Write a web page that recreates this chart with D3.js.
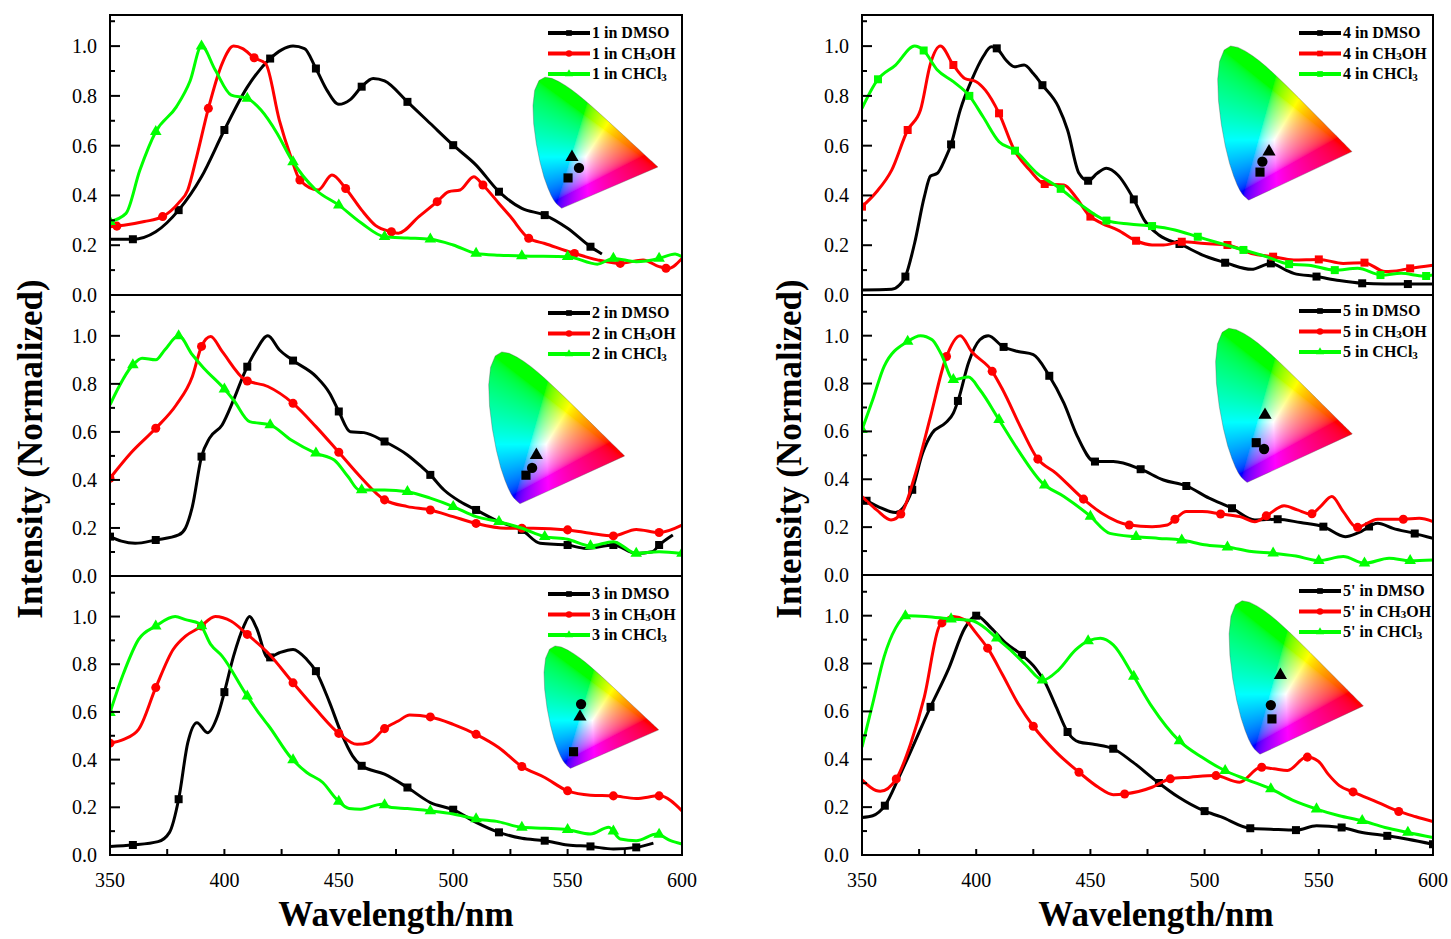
<!DOCTYPE html>
<html>
<head>
<meta charset="utf-8">
<script src="https://cdn.jsdelivr.net/npm/d3@7"></script>
<style>
  body { margin: 0; background: #fff; }
  svg { display: block; }
  text { font-family: "Liberation Serif", "Times New Roman", serif; fill: #000; }
</style>
</head>
<body>
<svg id="fig" width="1451" height="939"></svg>
<script>
// ---------- tick labels ----------
const wavelengthTicks = [350, 400, 450, 500, 550, 600];
const wavelengthMinorTicks = [350, 375, 400, 425, 450, 475, 500, 525, 550, 575, 600];
const intensityTicks = [0, 0.2, 0.4, 0.6, 0.8, 1.0];
const intensityMinorTicks = [0.1, 0.3, 0.5, 0.7, 0.9, 1.1];
const compounds = ["1", "2", "3", "4", "5", "5'"];
const solvents = ["DMSO", "CH3OH", "CHCl3"];

// ---------- emission spectra: [wavelength (nm), normalized intensity] ----------
const dmso1 = [[350,0.224],[360,0.224],[370,0.254],[380,0.341],[390,0.475],[400,0.663],[410,0.835],[420,0.95],[425,0.985],[430,1.0],[435,0.99],[440,0.91],[445,0.82],[450,0.766],[455,0.785],[460,0.837],[465,0.87],[470,0.86],[480,0.776],[490,0.689],[500,0.602],[510,0.522],[520,0.415],[530,0.348],[540,0.321],[550,0.268],[560,0.194],[565,0.165]];
const ch3oh1 = [[350,0.274],[356,0.28],[365,0.295],[373,0.315],[380,0.37],[384,0.422],[388,0.56],[393,0.75],[399,0.93],[404,1.0],[408,0.99],[413,0.953],[418,0.93],[424,0.703],[429,0.556],[433,0.462],[441,0.422],[447,0.482],[453,0.428],[460,0.341],[466,0.28],[473,0.254],[476,0.248],[485,0.315],[493,0.375],[498,0.415],[503,0.422],[509,0.475],[513,0.442],[520,0.368],[525,0.315],[533,0.228],[540,0.207],[553,0.167],[563,0.141],[573,0.127],[583,0.141],[590,0.114],[594,0.107],[600,0.147]];
const chcl31 = [[350,0.295],[357,0.328],[363,0.5],[370,0.656],[379,0.756],[385,0.86],[390,1.0],[396,0.904],[403,0.803],[410,0.79],[416,0.743],[423,0.65],[429,0.549],[440,0.422],[450,0.361],[460,0.288],[470,0.234],[480,0.229],[490,0.224],[500,0.201],[510,0.167],[520,0.16],[530,0.157],[550,0.154],[563,0.124],[570,0.147],[580,0.134],[590,0.147],[597,0.165],[600,0.154]];

const dmso2 = [[350,0.164],[355,0.145],[361,0.136],[370,0.15],[380,0.171],[383,0.2],[386,0.289],[390,0.497],[393.5,0.574],[399,0.629],[404,0.733],[409,0.851],[414,0.942],[419,1.0],[424,0.942],[430,0.897],[440,0.831],[446,0.761],[450,0.685],[455,0.601],[461,0.597],[470,0.56],[480,0.504],[486,0.456],[490,0.421],[496,0.358],[503,0.31],[510,0.275],[520,0.226],[530,0.192],[538,0.136],[550,0.129],[558,0.115],[570,0.129],[580,0.094],[587,0.101],[590,0.129],[596,0.171]];
const ch3oh2 = [[350,0.407],[359,0.511],[370,0.615],[379,0.713],[386,0.831],[390,0.956],[394,0.997],[399,0.935],[409,0.817],[419,0.789],[430,0.719],[440,0.622],[450,0.515],[460,0.407],[470,0.317],[480,0.289],[490,0.275],[500,0.247],[510,0.219],[523,0.199],[535,0.199],[550,0.192],[560,0.178],[570,0.167],[580,0.194],[590,0.181],[600,0.212]];
const chcl32 = [[350,0.713],[360,0.879],[364,0.907],[370,0.9],[374,0.942],[380,1.0],[386,0.921],[391,0.865],[399,0.789],[404,0.733],[411,0.643],[420,0.629],[429,0.567],[440,0.511],[448,0.483],[454,0.414],[459,0.358],[470,0.358],[480,0.351],[490,0.324],[500,0.289],[510,0.247],[520,0.226],[530,0.199],[540,0.164],[550,0.153],[560,0.125],[570,0.143],[580,0.094],[590,0.101],[600,0.094]];

const dmso3 = [[350,0.036],[360,0.042],[371,0.056],[376,0.095],[380,0.234],[384,0.471],[388,0.555],[392.6,0.513],[397,0.583],[400,0.683],[404,0.834],[408.5,0.96],[411,1.0],[414,0.953],[419,0.827],[424,0.848],[430,0.862],[436,0.82],[440,0.771],[446,0.639],[451,0.513],[456,0.416],[460,0.374],[470,0.339],[480,0.283],[490,0.22],[500,0.19],[510,0.137],[520,0.095],[530,0.07],[540,0.06],[550,0.042],[560,0.036],[570,0.025],[580,0.032],[587.5,0.05]];
const ch3oh3 = [[350,0.469],[356,0.485],[362.5,0.527],[370,0.702],[377.6,0.862],[383,0.918],[389,0.953],[396,1.0],[403,0.98],[410,0.925],[419,0.848],[430,0.722],[440,0.611],[450,0.51],[458,0.464],[463,0.471],[470,0.53],[476,0.562],[481,0.587],[490,0.579],[500,0.548],[510,0.506],[520,0.45],[530,0.371],[540,0.325],[550,0.269],[560,0.251],[570,0.248],[580,0.237],[590,0.248],[600,0.185]];
const chcl33 = [[350,0.597],[356,0.764],[362.5,0.904],[370,0.96],[378.5,1.0],[383,0.987],[389,0.971],[394,0.883],[399,0.834],[409,0.681],[416,0.583],[419.4,0.541],[429,0.409],[436,0.346],[443,0.304],[449,0.234],[454.5,0.195],[459.5,0.192],[468.7,0.213],[473,0.199],[480,0.195],[490,0.185],[500,0.172],[510,0.151],[520,0.139],[530,0.116],[540,0.112],[550,0.106],[560,0.088],[568,0.116],[573,0.067],[580,0.06],[589,0.088],[595,0.06],[600,0.046]];

const dmso4 = [[350,0.02],[363,0.023],[366.4,0.04],[369,0.074],[373,0.207],[377.3,0.395],[380,0.478],[383,0.489],[386.5,0.549],[389,0.605],[393,0.743],[398,0.863],[403,0.957],[406.6,0.997],[409,0.991],[413,0.944],[416.7,0.917],[421,0.924],[425,0.89],[429,0.843],[436,0.756],[440,0.663],[445,0.489],[449,0.459],[453,0.489],[457,0.509],[462,0.482],[469,0.384],[473.6,0.301],[480,0.241],[490,0.201],[500,0.157],[510,0.127],[520.5,0.103],[529,0.127],[535.6,0.1],[539,0.087],[549,0.074],[559,0.058],[569,0.047],[579,0.044],[589,0.044],[600,0.044]];
const ch3oh4 = [[350,0.355],[356.4,0.415],[363,0.502],[370,0.663],[375.6,0.743],[380,0.93],[384.3,1.0],[390,0.924],[395,0.87],[400,0.857],[404,0.823],[410,0.73],[416.7,0.582],[423.4,0.502],[430,0.446],[438.4,0.442],[443.5,0.395],[449.3,0.321],[455,0.288],[462,0.261],[470,0.218],[477,0.201],[482,0.201],[490,0.214],[500,0.207],[510,0.201],[520.5,0.167],[530,0.154],[539,0.141],[550,0.143],[560.7,0.127],[570,0.13],[579,0.094],[586,0.1],[590,0.107],[600,0.12]];
const chcl34 = [[350,0.75],[356.7,0.863],[364.7,0.924],[373,1.0],[376.8,0.984],[383,0.904],[390,0.857],[397,0.8],[403,0.716],[410,0.616],[416.7,0.582],[426.7,0.489],[436.8,0.428],[445,0.368],[457,0.299],[467,0.285],[477,0.277],[487,0.261],[497,0.234],[507,0.207],[517,0.181],[527,0.154],[537,0.124],[545.6,0.12],[557,0.1],[567,0.107],[577.5,0.08],[586,0.087],[596,0.076],[600,0.08]];

const dmso5 = [[350,0.321],[357,0.286],[364.7,0.261],[372,0.356],[376.5,0.509],[380.7,0.593],[386.5,0.635],[390,0.676],[392.4,0.739],[396.6,0.886],[401.6,0.983],[405.3,1.0],[411.6,0.955],[418.3,0.934],[425,0.921],[431.7,0.837],[438.4,0.718],[444.3,0.579],[451.8,0.474],[460,0.474],[472,0.442],[482,0.397],[492,0.372],[502,0.321],[512,0.279],[522,0.23],[532,0.233],[542,0.219],[552,0.202],[561.6,0.16],[567.4,0.177],[575.8,0.216],[582.5,0.195],[591.7,0.174],[600,0.153]];
const ch3oh5 = [[350,0.328],[356.4,0.272],[362.7,0.23],[367.3,0.258],[373,0.411],[380,0.662],[386.5,0.9],[393,1.0],[398,0.934],[407,0.851],[411.6,0.774],[420,0.607],[426.7,0.488],[435,0.425],[447,0.317],[455,0.258],[467,0.209],[477,0.202],[483.7,0.209],[487,0.233],[492,0.265],[499,0.265],[507,0.255],[515.5,0.244],[522,0.223],[527,0.247],[534.8,0.289],[540.6,0.272],[546.5,0.255],[550.7,0.286],[555.7,0.328],[560.7,0.265],[566.6,0.199],[575.8,0.233],[586.7,0.233],[594,0.237],[600,0.223]];
const chcl35 = [[350,0.607],[354.7,0.732],[359.7,0.872],[370,0.976],[375.6,1.0],[380.7,0.983],[384.8,0.921],[390,0.816],[396.6,0.827],[401.6,0.774],[410,0.649],[418.3,0.523],[429,0.384],[438.4,0.328],[449.3,0.251],[458.5,0.174],[470,0.16],[480,0.153],[490,0.146],[500,0.126],[510.5,0.116],[520.5,0.098],[530,0.091],[540,0.079],[550,0.06],[560.7,0.077],[570,0.049],[580.8,0.07],[590,0.06],[600,0.063]];

const dmso6 = [[350,0.157],[354.7,0.164],[360,0.206],[366.4,0.33],[380,0.619],[388,0.78],[395,0.948],[400,1.0],[406.6,0.948],[413,0.885],[420,0.836],[426,0.78],[430,0.724],[435,0.619],[440,0.514],[445,0.472],[452,0.462],[460,0.444],[468.6,0.388],[478.6,0.311],[488.7,0.241],[499.6,0.185],[507,0.16],[519.7,0.112],[529,0.108],[540,0.104],[549,0.122],[560,0.115],[569,0.094],[580,0.08],[589,0.066],[600,0.045]];
const ch3oh6 = [[350,0.314],[358,0.266],[365,0.318],[371.3,0.465],[377.3,0.661],[384,0.958],[390,0.997],[395,0.983],[400,0.927],[405.3,0.86],[411.6,0.752],[418.3,0.633],[425,0.538],[435,0.43],[445,0.346],[453.5,0.283],[460,0.252],[465,0.255],[477,0.283],[484.8,0.318],[493.7,0.325],[504.6,0.332],[515.3,0.304],[524.6,0.367],[530.4,0.36],[536.3,0.353],[544.7,0.409],[549.8,0.392],[554,0.339],[559,0.29],[565.4,0.262],[575.8,0.22],[585,0.182],[592.5,0.16],[600,0.14]];
const chcl36 = [[350,0.451],[354.7,0.633],[359.7,0.829],[364.7,0.948],[369.4,1.0],[378,0.997],[389,0.986],[398,0.98],[403,0.955],[409,0.906],[415,0.857],[421.7,0.794],[429.2,0.731],[436,0.773],[443.5,0.857],[449.3,0.896],[454.4,0.906],[460,0.878],[468.6,0.752],[477,0.619],[488.7,0.479],[498.7,0.409],[508.8,0.353],[518.8,0.314],[529,0.276],[539,0.227],[549,0.192],[559,0.164],[569,0.143],[579,0.115],[589,0.094],[600,0.073]];

// first symbol wavelength of each curve (DMSO, CH3OH, CHCl3); symbols repeat every 20 nm
const symbolStart1 = [360, 353, 350];
const symbolStart2 = [350, 350, 360];
const symbolStart3 = [360, 350, 350];
const symbolStart4 = [369, 350, 357];
const symbolStart5 = [352, 367, 350];
const symbolStart6 = [360, 365, 369];
const symbolStep = 20;

// CIE 1931 chromaticity (x, y) of the emission: DMSO, CH3OH, CHCl3
const cie1 = [[0.209,0.196],[0.273,0.259],[0.232,0.328]];
const cie2 = [[0.204,0.160],[0.237,0.200],[0.260,0.270]];
const cie3 = [[0.192,0.117],[0.240,0.440],[0.233,0.354]];
const cie4 = [[0.234,0.155],[0.247,0.211],[0.283,0.265]];
const cie5 = [[0.221,0.218],[0.263,0.184],[0.268,0.367]];
const cie6 = [[0.237,0.195],[0.231,0.270],[0.283,0.432]];

// CIE 1931 2° spectral locus, 380–700 nm
const spectralLocus = [[0.1741,0.0050],[0.1740,0.0050],[0.1738,0.0049],[0.1736,0.0049],[0.1733,0.0048],[0.1730,0.0048],[0.1726,0.0048],[0.1721,0.0048],[0.1714,0.0051],[0.1703,0.0058],[0.1689,0.0069],[0.1669,0.0086],[0.1644,0.0109],[0.1611,0.0138],[0.1566,0.0177],[0.1510,0.0227],[0.1440,0.0297],[0.1355,0.0399],[0.1241,0.0578],[0.1096,0.0868],[0.0913,0.1327],[0.0687,0.2007],[0.0454,0.2950],[0.0235,0.4127],[0.0082,0.5384],[0.0039,0.6548],[0.0139,0.7502],[0.0389,0.8120],[0.0743,0.8338],[0.1142,0.8262],[0.1547,0.8059],[0.1929,0.7816],[0.2296,0.7543],[0.2658,0.7243],[0.3016,0.6923],[0.3373,0.6589],[0.3731,0.6245],[0.4087,0.5896],[0.4441,0.5547],[0.4788,0.5202],[0.5125,0.4866],[0.5448,0.4544],[0.5752,0.4242],[0.6029,0.3965],[0.6270,0.3725],[0.6482,0.3514],[0.6658,0.3340],[0.6801,0.3197],[0.6915,0.3083],[0.7006,0.2993],[0.7079,0.2920],[0.7140,0.2859],[0.7190,0.2809],[0.7230,0.2770],[0.7260,0.2740],[0.7283,0.2717],[0.7300,0.2700],[0.7311,0.2689],[0.7320,0.2680],[0.7334,0.2666],[0.7344,0.2656],[0.7347,0.2653]];

// ---------- layout ----------
const colors = ["#000000", "#ff0000", "#00ff00"];
const columns = [
  { left: 110, right: 682, labelX: 97, titleX: 42, titleCx: 396 },
  { left: 862, right: 1433, labelX: 849, titleX: 801, titleCx: 1156 }
];
const panels = [
  { col: 0, top: 15,  bottom: 295, yMax: 1.125, legendDy: 18, series: [dmso1, ch3oh1, chcl31], starts: symbolStart1, shapes: ["square","circle","triangle"], cie: cie1, inset: { x0: 532.3, y0: 208.9, sx: 171, sy: 158 } },
  { col: 0, top: 295, bottom: 576, yMax: 1.17,  legendDy: 18, series: [dmso2, ch3oh2, chcl32], starts: symbolStart2, shapes: ["square","circle","triangle"], cie: cie2, inset: { x0: 488, y0: 504.5, sx: 186, sy: 183 } },
  { col: 0, top: 576, bottom: 855, yMax: 1.17,  legendDy: 18, series: [dmso3, ch3oh3, chcl33], starts: symbolStart3, shapes: ["square","circle","triangle"], cie: cie3, inset: { x0: 543.4, y0: 769, sx: 157, sy: 147.6 } },
  { col: 1, top: 15,  bottom: 295, yMax: 1.125, legendDy: 18, series: [dmso4, ch3oh4, chcl34], starts: symbolStart4, shapes: ["square","square","square"], cie: cie4, inset: { x0: 1217, y0: 200.9, sx: 183.7, sy: 185.8 } },
  { col: 1, top: 295, bottom: 575, yMax: 1.17,  legendDy: 16, series: [dmso5, ch3oh5, chcl35], starts: symbolStart5, shapes: ["square","circle","triangle"], cie: cie5, inset: { x0: 1214.9, y0: 483.2, sx: 187, sy: 185.8 } },
  { col: 1, top: 575, bottom: 855, yMax: 1.17,  legendDy: 16, series: [dmso6, ch3oh6, chcl36], starts: symbolStart6, shapes: ["square","circle","triangle"], cie: cie6, inset: { x0: 1228.4, y0: 755, sx: 183.7, sy: 185 } }
];

const svg = d3.select("#fig");
const defs = svg.append("defs");

const symbolTypes = { square: d3.symbolSquare, circle: d3.symbolCircle, triangle: d3.symbolTriangle };
const symbolSizes = { square: 64, circle: 64, triangle: 58 };
function symbolPath(shape, scale = 1) {
  return d3.symbol().type(symbolTypes[shape]).size(symbolSizes[shape] * scale)();
}

// point on a drawn path whose x equals X (paths run left to right)
function pointAtX(node, X) {
  let lo = 0, hi = node.getTotalLength();
  for (let i = 0; i < 40; i++) {
    const mid = (lo + hi) / 2;
    if (node.getPointAtLength(mid).x < X) lo = mid; else hi = mid;
  }
  return node.getPointAtLength((lo + hi) / 2);
}

// chromaticity -> display sRGB
function chromaColor(cx, cy) {
  const yy = Math.max(cy, 1e-4);
  const X = cx / yy, Y = 1, Z = (1 - cx - cy) / yy;
  let r = 3.2406 * X - 1.5372 * Y - 0.4986 * Z;
  let g = -0.9689 * X + 1.8758 * Y + 0.0415 * Z;
  let b = 0.0557 * X - 0.2040 * Y + 1.0570 * Z;
  r = Math.max(r, 0); g = Math.max(g, 0); b = Math.max(b, 0);
  const m = Math.max(r, g, b) || 1;
  const enc = c => { c /= m; return 255 * (c <= 0.0031308 ? 12.92 * c : 1.055 * Math.pow(c, 1 / 2.4) - 0.055); };
  return [enc(r), enc(g), enc(b)];
}

function drawChromaticity(g, p, idx) {
  const { x0, y0, sx, sy } = p.inset;
  const px = d3.scaleLinear().domain([0, 1]).range([x0, x0 + sx]);
  const py = d3.scaleLinear().domain([0, 1]).range([y0, y0 - sy]);
  const left = Math.floor(px(0) - 2), top = Math.floor(py(0.86));
  const w = Math.ceil(px(0.76) - left), h = Math.ceil(py(-0.01) - top);
  const canvas = document.createElement("canvas");
  canvas.width = w; canvas.height = h;
  const ctx = canvas.getContext("2d");
  const img = ctx.createImageData(w, h);
  for (let j = 0; j < h; j++) {
    for (let i = 0; i < w; i++) {
      const cx = px.invert(left + i + 0.5), cy = py.invert(top + j + 0.5);
      const [r, gg, b] = chromaColor(cx, cy);
      const k = (j * w + i) * 4;
      img.data[k] = r; img.data[k + 1] = gg; img.data[k + 2] = b; img.data[k + 3] = 255;
    }
  }
  ctx.putImageData(img, 0, 0);
  const locusLine = d3.line().x(d => px(d[0])).y(d => py(d[1]));
  const locusPath = locusLine(spectralLocus) + "Z";
  defs.append("clipPath").attr("id", "locus" + idx).append("path").attr("d", locusPath);
  g.append("image")
    .attr("x", left).attr("y", top).attr("width", w).attr("height", h)
    .attr("preserveAspectRatio", "none")
    .attr("href", canvas.toDataURL())
    .attr("clip-path", `url(#locus${idx})`);
  g.append("path").attr("d", locusPath)
    .attr("fill", "none").attr("stroke", "#555").attr("stroke-width", 0.6).attr("stroke-opacity", 0.6);
  const shapes = ["square", "circle", "triangle"];
  g.selectAll("path.cie").data(p.cie).enter().append("path")
    .attr("class", "cie")
    .attr("transform", d => `translate(${px(d[0])},${py(d[1])})`)
    .attr("d", (d, i) => symbolPath(shapes[i], 1.3))
    .attr("fill", "#000");
}

function appendSolvent(textSel, compound, solvent) {
  textSel.append("tspan").text(compound + " in ");
  const parts = { DMSO: [["DMSO", 0]], CH3OH: [["CH", 0], ["3", 1], ["OH", 0]], CHCl3: [["CHCl", 0], ["3", 1]] }[solvent];
  let shifted = false;
  parts.forEach(([t, sub]) => {
    const ts = textSel.append("tspan").text(t);
    if (sub) { ts.attr("font-size", 11).attr("dy", 1.5); shifted = true; }
    else if (shifted) { ts.attr("dy", -1.5); shifted = false; }
  });
}

panels.forEach((p, idx) => {
  const col = columns[p.col];
  const x = d3.scaleLinear().domain([350, 600]).range([col.left, col.right]);
  const y = d3.scaleLinear().domain([0, p.yMax]).range([p.bottom, p.top]);
  const g = svg.append("g");

  defs.append("clipPath").attr("id", "plot" + idx)
    .append("rect").attr("x", col.left).attr("y", p.top)
    .attr("width", col.right - col.left).attr("height", p.bottom - p.top);

  // chromaticity inset sits behind the spectra
  drawChromaticity(g.append("g"), p, idx);

  const line = d3.line().x(d => x(d[0])).y(d => y(d[1])).curve(d3.curveMonotoneX);
  const plot = g.append("g").attr("clip-path", `url(#plot${idx})`);
  p.series.forEach((data, si) => {
    const path = plot.append("path").datum(data)
      .attr("d", line)
      .attr("fill", "none").attr("stroke", colors[si])
      .attr("stroke-width", 3).attr("stroke-linejoin", "round");
    const node = path.node();
    const lo = data[0][0], hi = data[data.length - 1][0];
    const marks = d3.range(p.starts[si], hi + 0.01, symbolStep).filter(w => w >= lo);
    marks.forEach(w => {
      const pt = pointAtX(node, x(w));
      plot.append("path").attr("transform", `translate(${pt.x},${pt.y})`)
        .attr("d", symbolPath(p.shapes[si])).attr("fill", colors[si]);
    });
  });

  // frame
  g.append("rect").attr("x", col.left).attr("y", p.top)
    .attr("width", col.right - col.left).attr("height", p.bottom - p.top)
    .attr("fill", "none").attr("stroke", "#000").attr("stroke-width", 2);

  // y axis: inward ticks
  g.selectAll("line.ymaj").data(intensityTicks).enter().append("line")
    .attr("x1", col.left).attr("x2", col.left + 10)
    .attr("y1", d => y(d)).attr("y2", d => y(d))
    .attr("stroke", "#000").attr("stroke-width", 2);
  g.selectAll("line.ymin").data(intensityMinorTicks.filter(d => d < p.yMax)).enter().append("line")
    .attr("x1", col.left).attr("x2", col.left + 5)
    .attr("y1", d => y(d)).attr("y2", d => y(d))
    .attr("stroke", "#000").attr("stroke-width", 2);
  g.selectAll("text.ylab").data(intensityTicks).enter().append("text")
    .attr("x", col.labelX).attr("y", d => y(d)).attr("dy", "0.35em")
    .attr("text-anchor", "end").attr("font-size", 20)
    .text(d => d3.format(".1f")(d));

  // x axis on the lowest panel of each column
  if (p.bottom >= 850) {
    g.selectAll("line.xt").data(wavelengthMinorTicks).enter().append("line")
      .attr("x1", d => x(d)).attr("x2", d => x(d))
      .attr("y1", p.bottom).attr("y2", p.bottom - 6)
      .attr("stroke", "#000").attr("stroke-width", 2);
    g.selectAll("text.xlab").data(wavelengthTicks).enter().append("text")
      .attr("x", d => x(d)).attr("y", 887)
      .attr("text-anchor", "middle").attr("font-size", 20)
      .text(d => d);
  }

  // legend
  const lx0 = col.right - 134, lx1 = col.right - 92, tx = col.right - 90;
  solvents.forEach((s, si) => {
    const ly = p.top + p.legendDy + si * 20.5;
    g.append("line").attr("x1", lx0).attr("x2", lx1).attr("y1", ly).attr("y2", ly)
      .attr("stroke", colors[si]).attr("stroke-width", 4);
    g.append("path").attr("transform", `translate(${(lx0 + lx1) / 2},${ly})`)
      .attr("d", symbolPath(p.shapes[si], 0.5)).attr("fill", colors[si]);
    const t = g.append("text").attr("x", tx).attr("y", ly).attr("dy", "0.33em")
      .attr("font-size", 16).attr("font-weight", "bold");
    appendSolvent(t, compounds[idx], s);
  });
});

// axis titles
columns.forEach(col => {
  svg.append("text")
    .attr("transform", `translate(${col.titleX},449) rotate(-90)`)
    .attr("text-anchor", "middle").attr("font-size", 35).attr("font-weight", "bold")
    .text("Intensity (Normalized)");
  svg.append("text")
    .attr("x", col.titleCx).attr("y", 926)
    .attr("text-anchor", "middle").attr("font-size", 35).attr("font-weight", "bold")
    .text("Wavelength/nm");
});
</script>
</body>
</html>
